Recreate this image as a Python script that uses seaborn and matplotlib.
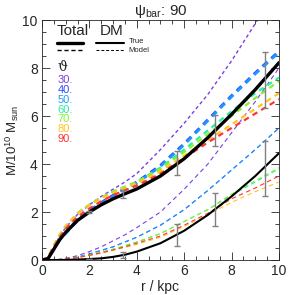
import numpy as np
import pandas as pd
import seaborn as sns
import matplotlib
matplotlib.use('Agg')
import matplotlib.pyplot as plt
from matplotlib.ticker import MultipleLocator

sns.set_style('ticks')
plt.rcParams['font.family'] = ['Liberation Sans', 'DejaVu Sans']
plt.rcParams['mathtext.fontset'] = 'custom'
plt.rcParams['mathtext.rm'] = 'Liberation Sans'

# radius grid (kpc)
r = [0, 0.25, 0.5, 0.75, 1, 1.5, 2, 2.5, 3, 3.5, 4, 5, 6, 7, 8, 9, 10]

# true mass profiles
total_true = [0, 0.05, 0.45, 0.85, 1.15, 1.65, 2.0, 2.3, 2.55, 2.76, 2.96, 3.5, 4.22, 5.1, 6.07, 7.1, 8.22]
dm_true = [0, 0, 0, 0, 0.005, 0.02, 0.04, 0.07, 0.13, 0.22, 0.35, 0.7, 1.22, 1.88, 2.65, 3.5, 4.45]

# error bars on true profiles
r_err = [2.0, 3.4, 5.7, 7.3, 9.4]
total_err_val = [2.0, 2.75, 4.03, 5.4, 7.5]
total_err = [0.05, 0.15, 0.5, 0.65, 1.15]
dm_err_val = [0.05, 0.22, 1.05, 2.1, 3.82]
dm_err = [0.0, 0.12, 0.45, 0.7, 1.15]

# model profiles per viewing angle
angles = [30, 40, 50, 60, 70, 80, 90]
angle_colors = ['#7a3fe0', '#2f4bff', '#1e9bff', '#26f0a0', '#86f030', '#ffc41e', '#ff3333']

total_model = {
    30: [0, 0.1, 0.55, 1.0, 1.35, 1.9, 2.3, 2.65, 2.95, 3.25, 3.6, 4.6, 5.7, 6.9, 8.3, 9.85, 11.5],
    40: [0, 0.05, 0.45, 0.85, 1.15, 1.7, 2.05, 2.4, 2.7, 2.98, 3.25, 3.95, 4.85, 5.85, 6.85, 7.8, 8.7],
    50: [0, 0.05, 0.45, 0.85, 1.1, 1.65, 2.0, 2.35, 2.65, 2.93, 3.2, 3.9, 4.8, 5.8, 6.8, 7.75, 8.65],
    60: [0, 0.1, 0.6, 1.05, 1.4, 1.95, 2.3, 2.6, 2.85, 3.05, 3.25, 3.85, 4.6, 5.4, 6.2, 6.95, 7.6],
    70: [0, 0.1, 0.6, 1.05, 1.4, 1.95, 2.3, 2.6, 2.85, 3.05, 3.25, 3.8, 4.5, 5.25, 6.0, 6.75, 7.45],
    80: [0, 0.1, 0.6, 1.05, 1.4, 1.95, 2.3, 2.58, 2.8, 3.0, 3.2, 3.7, 4.35, 5.0, 5.65, 6.3, 6.95],
    90: [0, 0.1, 0.55, 0.95, 1.3, 1.8, 2.15, 2.45, 2.7, 2.9, 3.1, 3.6, 4.25, 4.9, 5.5, 6.1, 6.7],
}
dm_model = {
    30: [0, 0, 0.01, 0.03, 0.07, 0.18, 0.35, 0.55, 0.8, 1.05, 1.35, 2.0, 2.95, 4.0, 5.3, 6.6, 8.0],
    40: [0, 0, 0.01, 0.02, 0.04, 0.12, 0.25, 0.4, 0.55, 0.75, 0.95, 1.45, 2.1, 2.9, 3.75, 4.6, 5.5],
    50: [0, 0, 0.01, 0.02, 0.04, 0.12, 0.25, 0.4, 0.55, 0.75, 0.95, 1.45, 2.1, 2.9, 3.75, 4.6, 5.5],
    60: [0, 0, 0.01, 0.02, 0.05, 0.11, 0.2, 0.32, 0.45, 0.6, 0.75, 1.1, 1.6, 2.1, 2.7, 3.25, 3.8],
    70: [0, 0, 0.01, 0.02, 0.05, 0.11, 0.2, 0.32, 0.45, 0.6, 0.75, 1.1, 1.6, 2.1, 2.75, 3.3, 3.85],
    80: [0, 0, 0.01, 0.02, 0.05, 0.1, 0.18, 0.28, 0.4, 0.52, 0.65, 0.95, 1.4, 1.9, 2.4, 2.85, 3.25],
    90: [0, 0, 0.01, 0.02, 0.05, 0.1, 0.2, 0.3, 0.42, 0.55, 0.7, 1.0, 1.45, 1.95, 2.55, 3.0, 3.5],
}
total_lw = {30: 1.0, 40: 1.9, 50: 1.9, 60: 1.6, 70: 1.6, 80: 1.6, 90: 1.6}

fig = plt.figure(figsize=(2.89, 2.95), dpi=100)
ax = fig.add_axes([0.1453, 0.1186, 0.820, 0.8136])

for a, c in zip(angles, angle_colors):
    sns.lineplot(x=r, y=dm_model[a], ax=ax, color=c, lw=0.8,
                 linestyle=(0, (4, 3)), estimator=None, sort=False)
for a, c in zip(angles, angle_colors):
    sns.lineplot(x=r, y=total_model[a], ax=ax, color=c, lw=total_lw[a],
                 linestyle=(0, (2.5, 2)), estimator=None, sort=False)

sns.lineplot(x=r, y=total_true, ax=ax, color='black', lw=2.4, estimator=None, sort=False)
sns.lineplot(x=r, y=dm_true, ax=ax, color='black', lw=1.5, estimator=None, sort=False)

ax.errorbar(r_err, total_err_val, yerr=total_err, fmt='none', ecolor='#808080',
            elinewidth=1.0, capsize=2.5, capthick=1.0)
ax.errorbar(r_err, dm_err_val, yerr=dm_err, fmt='none', ecolor='#808080',
            elinewidth=1.0, capsize=2.5, capthick=1.0)

ax.set_xlim(0, 10)
ax.set_ylim(0, 10)
ax.xaxis.set_major_locator(MultipleLocator(2))
ax.xaxis.set_minor_locator(MultipleLocator(0.5))
ax.yaxis.set_major_locator(MultipleLocator(2))
ax.yaxis.set_minor_locator(MultipleLocator(0.5))
ax.tick_params(which='both', direction='in', top=True, right=True, labelsize=10, width=0.6)
ax.tick_params(which='major', length=6, pad=3)
ax.tick_params(which='minor', length=3)
for s in ax.spines.values():
    s.set_linewidth(0.6)

ax.set_xlabel('r / kpc', fontsize=10, labelpad=1)
ax.set_ylabel(r'M/10$^{10}$ M$_{\rm sun}$', fontsize=9.5, labelpad=1)
ax.set_title('\u03c8$_{\\rm bar}$: 90', fontsize=11, pad=3)

# legend
tr = ax.transAxes
ax.text(0.06, 0.955, 'Total', transform=tr, fontsize=11, va='center')
ax.text(0.245, 0.955, 'DM', transform=tr, fontsize=11, va='center')
ax.plot([0.065, 0.175], [0.905, 0.905], transform=tr, color='black', lw=2.4)
ax.plot([0.23, 0.345], [0.905, 0.905], transform=tr, color='black', lw=1.5)
ax.plot([0.065, 0.175], [0.875, 0.875], transform=tr, color='black', lw=1.0, linestyle=(0, (3, 2)))
ax.plot([0.23, 0.345], [0.875, 0.875], transform=tr, color='black', lw=0.7, linestyle=(0, (3, 2)))
ax.text(0.365, 0.912, 'True', transform=tr, fontsize=5.5, va='center')
ax.text(0.365, 0.875, 'Model', transform=tr, fontsize=5.5, va='center')
ax.text(0.085, 0.805, '\u03d1', transform=tr, fontsize=10, va='center', ha='center',
        family='DejaVu Serif')
for i, (a, c) in enumerate(zip(angles, angle_colors)):
    ax.text(0.065, 0.75 - i * 0.041, f'{a}.', transform=tr, fontsize=8, va='center', color=c)

fig.savefig('out.png', dpi=100)
